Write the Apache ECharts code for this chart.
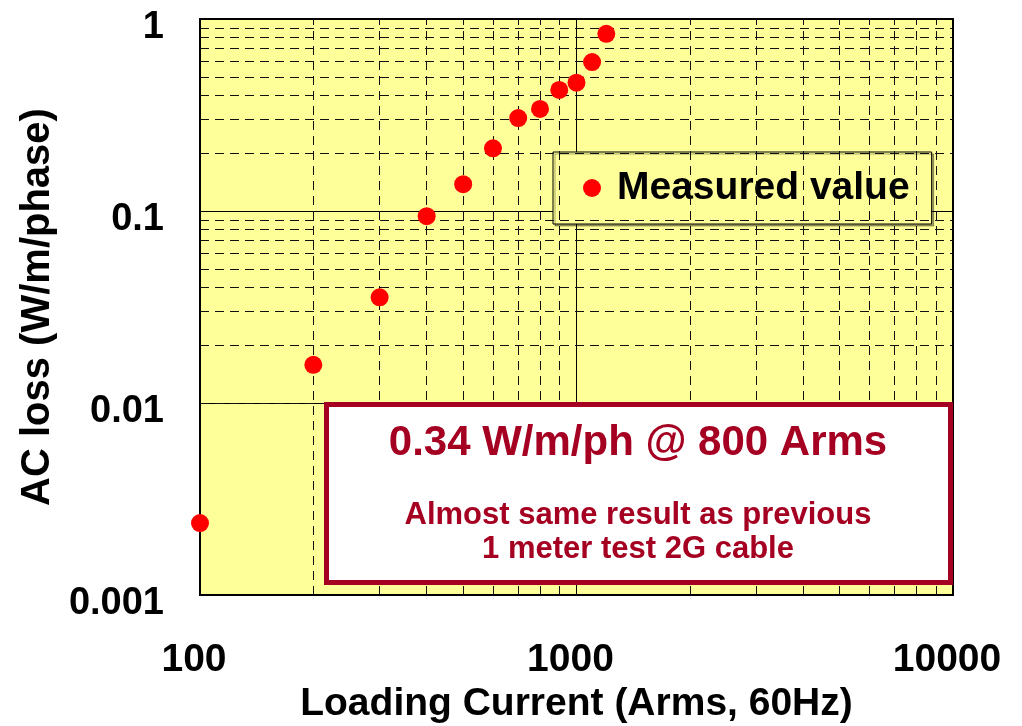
<!DOCTYPE html>
<html>
<head>
<meta charset="utf-8">
<script src="https://cdn.jsdelivr.net/npm/echarts@6/dist/echarts.min.js"></script>
<style>html,body{margin:0;padding:0;background:#fff}#c{width:1022px;height:726px}</style>
</head>
<body>
<div id="c"></div>
<script>
// ---- data ----
var currents = [100, 200, 300, 400, 500, 600, 700, 800, 900, 1000, 1100, 1200];
var acLoss = [0.00237, 0.0158, 0.0355, 0.094, 0.138, 0.212, 0.305, 0.34, 0.427, 0.466, 0.597, 0.837];
var xTicks = [100, 1000, 10000];
var xTickLabels = ['100', '1000', '10000'];
var yTicks = [0.001, 0.01, 0.1, 1];
var yTickLabels = ['0.001', '0.01', '0.1', '1'];
var seriesName = 'Measured value';
var xTitle = 'Loading Current (Arms, 60Hz)';
var yTitle = 'AC loss (W/m/phase)';
var noteTitle = '0.34 W/m/ph @ 800 Arms';
var noteLine1 = 'Almost same result as previous';
var noteLine2 = '1 meter test 2G cable';

// ---- helpers ----
var FONT = "'Liberation Sans', Arial, sans-serif";
var DARKRED = '#A50021';
function nearestLabel(v, ticks, labels) {
  var best = 0, bd = Infinity;
  for (var i = 0; i < ticks.length; i++) {
    var d = Math.abs(Math.log10(v) - Math.log10(ticks[i]));
    if (d < bd) { bd = d; best = i; }
  }
  return bd < 0.01 ? labels[best] : '';
}
function minorValues(ticks) {
  var out = [];
  for (var i = 0; i < ticks.length - 1; i++) {
    for (var k = 2; k <= 9; k++) out.push(Number((k * ticks[i]).toPrecision(3)));
  }
  return out;
}
var gridLines = [];
minorValues(xTicks).forEach(function (v) { gridLines.push({ xAxis: v }); });
minorValues(yTicks).forEach(function (v) { gridLines.push({ yAxis: v }); });

var points = currents.map(function (c, i) { return [c, acLoss[i]]; });

var chart = echarts.init(document.getElementById('c'), null, { renderer: 'canvas' });
chart.setOption({
  animation: false,
  backgroundColor: '#fff',
  textStyle: { fontFamily: FONT },
  grid: {
    left: 200, top: 19, right: 69, bottom: 131,
    outerBoundsMode: 'none', containLabel: false,
    show: true, backgroundColor: '#FFFF99', borderColor: '#000', borderWidth: 2
  },
  xAxis: {
    type: 'log', logBase: 10, min: xTicks[0], max: xTicks[xTicks.length - 1],
    name: xTitle, nameLocation: 'middle', nameGap: 74,
    nameTextStyle: { fontSize: 39, fontWeight: 'bold', color: '#000', fontFamily: FONT },
    axisLine: { show: false },
    axisTick: { show: false },
    axisLabel: {
      fontSize: 39, fontWeight: 'bold', color: '#000', fontFamily: FONT, margin: 46,
      padding: [0, 12, 0, 0],
      formatter: function (v) { return nearestLabel(v, xTicks, xTickLabels); }
    },
    splitLine: { show: true, lineStyle: { color: '#000', width: 1 } }
  },
  yAxis: {
    type: 'log', logBase: 10, min: yTicks[0], max: yTicks[yTicks.length - 1],
    name: yTitle, nameLocation: 'middle', nameGap: 142, nameRotate: 90,
    nameTextStyle: { fontSize: 40, fontWeight: 'bold', color: '#000', fontFamily: FONT },
    axisLine: { show: false },
    axisTick: { show: false },
    axisLabel: {
      color: '#000', margin: 36,
      formatter: function (v) {
        var s = nearestLabel(v, yTicks, yTickLabels);
        return s ? '{a|' + s + '}' : '';
      },
      rich: {
        a: { fontSize: 38, fontWeight: 'bold', color: '#000', fontFamily: FONT, lineHeight: 38, padding: [18, 0, 0, 0] }
      }
    },
    splitLine: { show: true, lineStyle: { color: '#000', width: 1 } }
  },
  legend: {
    data: [seriesName], left: 553, top: 152,
    backgroundColor: '#FFFF99', borderColor: '#000', borderWidth: 1,
    shadowColor: 'rgba(0,0,0,0.35)', shadowOffsetX: 2, shadowOffsetY: 2, shadowBlur: 0,
    padding: [16, 22, 16, 30], itemWidth: 18, itemHeight: 18, icon: 'circle',
    textStyle: { fontSize: 39, fontWeight: 'bold', color: '#000', fontFamily: FONT, lineHeight: 40, padding: [0, 0, 0, 11] }
  },
  series: [
    {
      name: 'grid', type: 'scatter', data: [], z: 1, silent: true,
      markLine: {
        silent: true, symbol: 'none', animation: false,
        label: { show: false },
        lineStyle: { color: '#111', width: 1, type: [9, 6] },
        data: gridLines
      }
    },
    {
      name: seriesName, type: 'scatter', data: points, z: 5,
      symbol: 'circle', symbolSize: 18,
      itemStyle: { color: '#FF0000', opacity: 1 }
    }
  ],
  graphic: [
    {
      type: 'rect', z: 100,
      shape: { x: 326.5, y: 404.5, width: 624, height: 178 },
      style: { fill: '#fff', stroke: DARKRED, lineWidth: 5 }
    },
    {
      type: 'text', z: 101, x: 638, y: 443,
      style: { text: noteTitle, font: "bold 42px " + FONT, fill: DARKRED, align: 'center', verticalAlign: 'middle' }
    },
    {
      type: 'text', z: 101, x: 638, y: 515,
      style: { text: noteLine1, font: "bold 31px " + FONT, fill: DARKRED, align: 'center', verticalAlign: 'middle' }
    },
    {
      type: 'text', z: 101, x: 638, y: 549,
      style: { text: noteLine2, font: "bold 31px " + FONT, fill: DARKRED, align: 'center', verticalAlign: 'middle' }
    }
  ]
});
</script>
</body>
</html>
